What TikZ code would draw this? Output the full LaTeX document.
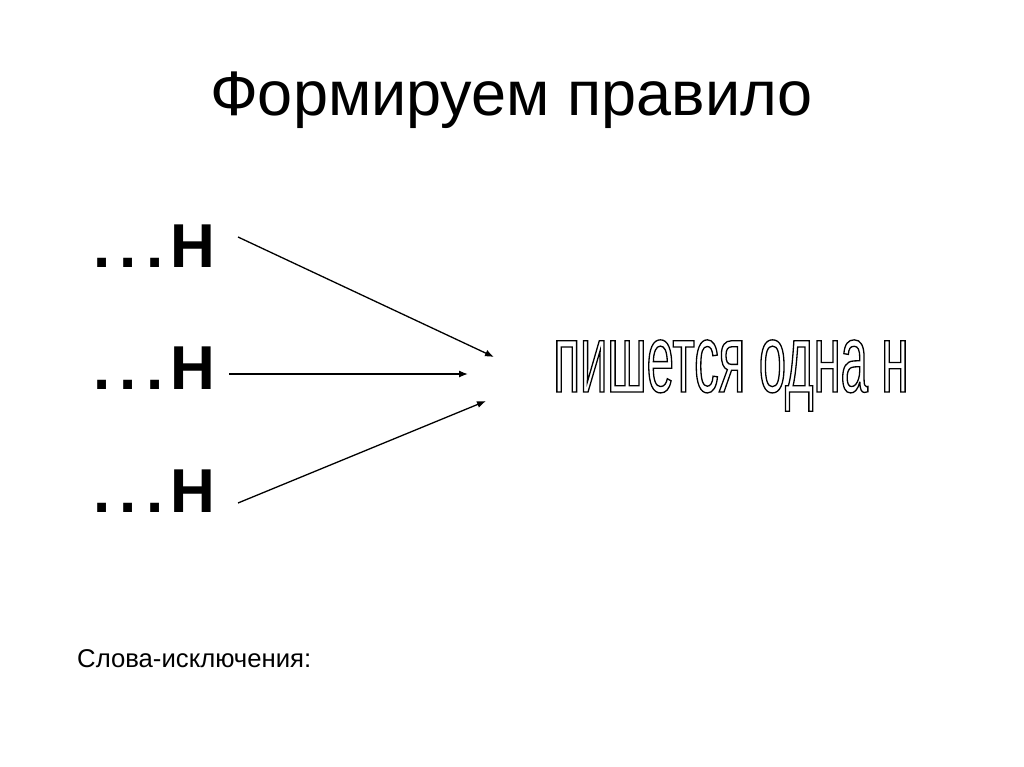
\documentclass[tikz,border=0pt]{standalone}
\usepackage{fontspec}
\setmainfont{Liberation Sans}
\newfontfamily\narrowfont[FakeStretch=0.505]{Liberation Sans}
\usetikzlibrary{arrows.meta}
\newcommand{\outlined}[1]{\special{pdf:literal direct 1 Tr 1.3 w}#1\special{pdf:literal direct 0 Tr}}
\newcommand{\dotsH}{.\kern9pt.\kern9.5pt.\kern7ptН}

\begin{document}
\begin{tikzpicture}[x=1pt,y=-1pt,
    row/.style={anchor=base west, inner sep=0pt, font=\fontsize{62}{62}\selectfont\bfseries},
    arr/.style={-{Latex[length=9pt,width=7pt]}, line width=1.3pt}]
    \useasboundingbox[fill=white] (0,0) rectangle (1024,767);
    \node[anchor=base, inner sep=0pt, font=\fontsize{63}{63}\selectfont] (title) at (511.5,116) {Формируем правило};
    % три окончания
    \node[row] (row1) at (93.5,267) {\dotsH};
    \node[row] (row2) at (93.5,389) {\dotsH};
    \node[row] (row3) at (93.5,512) {\dotsH};
    % правило
    \node[anchor=base, inner sep=0pt, font=\fontsize{97}{97}\narrowfont] (rule) at (731,392) {\outlined{пишется одна н}};
    \coordinate (from1) at (238,237);
    \coordinate (from2) at (229,374);
    \coordinate (from3) at (238,503);
    \coordinate (to1) at (494,357);
    \coordinate (to2) at (468,374);
    \coordinate (to3) at (486,401);
    \draw[arr] (from1) -- (to1);
    \draw[arr] (from2) -- (to2);
    \draw[arr] (from3) -- (to3);
    \node[anchor=base west, inner sep=0pt, font=\fontsize{25.7}{25.7}\selectfont] (except) at (77,667) {Слова-исключения:};
\end{tikzpicture}
\end{document}
